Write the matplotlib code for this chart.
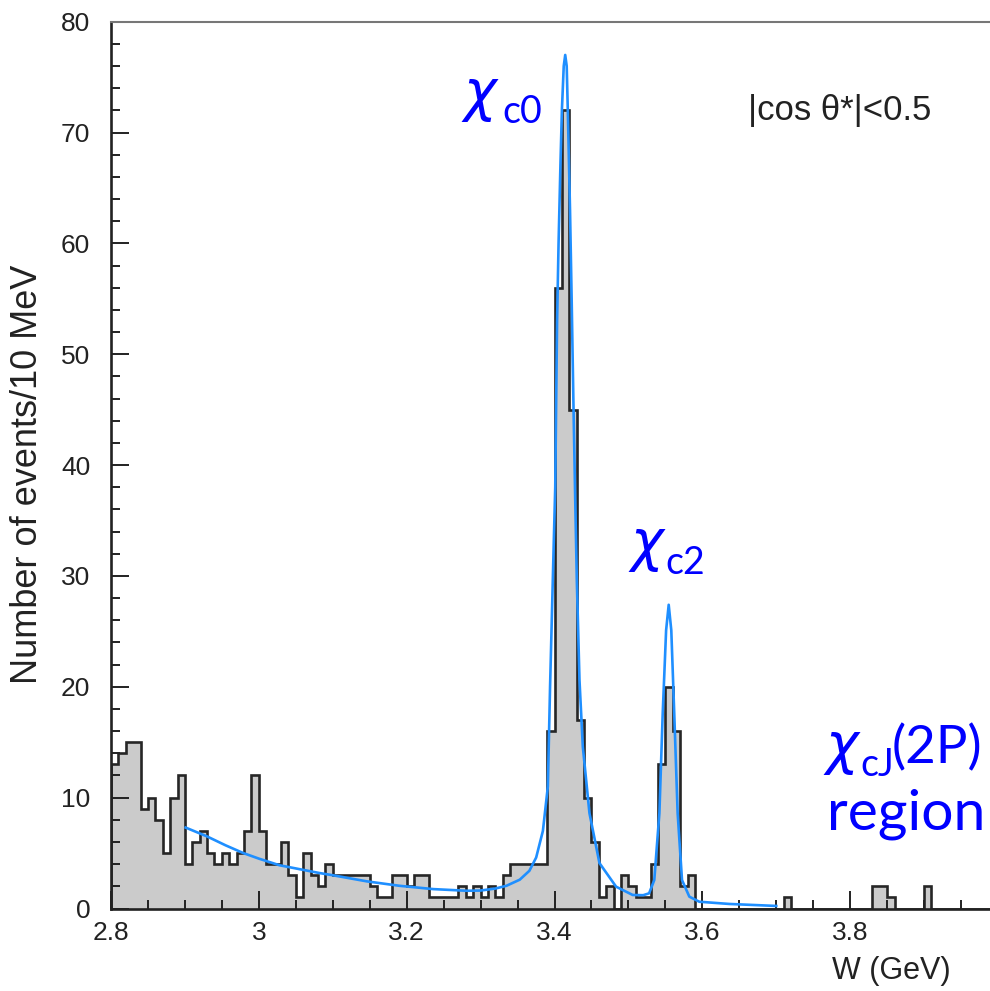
import matplotlib
matplotlib.use("Agg")
import matplotlib.pyplot as plt
import numpy as np
from matplotlib.ticker import MultipleLocator, FuncFormatter

# Histogram contents, 10 MeV bins from 2.80 to 4.00 GeV
counts = [
    13, 14, 15, 15, 9, 10, 8, 5, 10, 12,     # 2.80 - 2.89
    4, 6, 7, 5, 4, 5, 4, 5, 7, 12,           # 2.90 - 2.99
    7, 4, 4, 6, 3, 1, 5, 3, 2, 4,            # 3.00 - 3.09
    3, 3, 3, 3, 3, 2, 1, 1, 3, 3,            # 3.10 - 3.19
    2, 3, 3, 1, 1, 1, 1, 2, 1, 2,            # 3.20 - 3.29
    1, 2, 1, 3, 4, 4, 4, 4, 4, 16,           # 3.30 - 3.39
    56, 72, 45, 17, 10, 6, 1, 2, 0, 3,       # 3.40 - 3.49
    2, 1, 1, 4, 13, 20, 16, 2, 3, 0,         # 3.50 - 3.59
    0, 0, 0, 0, 0, 0, 0, 0, 0, 0,            # 3.60 - 3.69
    0, 1, 0, 0, 0, 0, 0, 0, 0, 0,            # 3.70 - 3.79
    0, 0, 0, 2, 2, 1, 0, 0, 0, 0,            # 3.80 - 3.89
    2, 0, 0, 0, 0, 0, 0, 0, 0, 0,            # 3.90 - 3.99
]
w_lo, w_hi = 2.80, 4.00

# Fit curve, points
fit_w = [2.901, 2.930, 2.955, 2.979, 3.000, 3.028, 3.055, 3.082, 3.100, 3.146,
         3.190, 3.236, 3.281, 3.300, 3.320, 3.335, 3.353, 3.366, 3.3752, 3.3843,
         3.391, 3.394, 3.3977, 3.399, 3.401, 3.4023, 3.4035, 3.4055, 3.408, 3.410,
         3.4125, 3.4145, 3.4165, 3.4180, 3.420, 3.421, 3.4232, 3.4255, 3.428, 3.4302,
         3.4338, 3.4383, 3.4473, 3.4608, 3.4833, 3.5058, 3.520, 3.528, 3.535, 3.5419,
         3.5464, 3.551, 3.5545, 3.558, 3.562, 3.5666, 3.5725, 3.5824, 3.5959, 3.6365,
         3.700]
fit_n = [7.3, 6.5, 5.7, 5.0, 4.5, 3.9, 3.55, 3.2, 3.0, 2.45,
         2.05, 1.75, 1.6, 1.62, 1.8, 2.05, 2.6, 3.4, 4.6, 7.0,
         11.0, 20.0, 29.6, 33.0, 38.0, 46.0, 53.0, 60.0, 67.0, 72.0,
         76.0, 77.0, 76.0, 72.0, 66.0, 63.0, 55.0, 46.0, 37.0, 29.6,
         20.6, 14.6, 8.6, 4.1, 1.97, 1.22, 1.2, 1.37, 2.57, 8.6,
         17.6, 25.1, 27.4, 25.1, 17.6, 8.6, 2.57, 1.07, 0.61, 0.41,
         0.23]

W, H = 990, 991


def fx(px):
    return px / W


def fy(py):
    return 1 - py / H


def wlabel(v, pos):
    # the 4.0 label falls outside the cropped picture
    if v > 3.95:
        return ""
    return "%g" % round(v, 2)


fig = plt.figure(figsize=(9.9, 9.91), dpi=100)
ax = fig.add_axes([fx(111), fy(908.5), (998 - 111) / W, (908.5 - 21.7) / H])

edges = np.linspace(w_lo, w_hi, len(counts) + 1)
ax.stairs(counts, edges, fill=True, facecolor="#cbcbcb", edgecolor="none", zorder=1)
ax.stairs(counts, edges, color="#262626", lw=1.9, zorder=1.5)
ax.plot(fit_w, fit_n, color="#1f8fff", lw=1.9, zorder=2)

ax.set_xlim(w_lo, w_hi)
ax.set_ylim(0, 80)

ax.xaxis.set_major_locator(MultipleLocator(0.2))
ax.xaxis.set_minor_locator(MultipleLocator(0.05))
ax.yaxis.set_major_locator(MultipleLocator(10))
ax.yaxis.set_minor_locator(MultipleLocator(2))
ax.xaxis.set_major_formatter(FuncFormatter(wlabel))
ax.tick_params(which="both", direction="in", width=1.4, colors="#222222",
               top=False, right=False)
ax.tick_params(which="major", length=13, labelsize=19)
ax.tick_params(axis="y", which="major", pad=15)
ax.tick_params(axis="x", which="major", pad=9)
ax.tick_params(which="minor", length=6.5)
for lab in ax.get_xticklabels() + ax.get_yticklabels():
    lab.set_fontfamily("Liberation Sans")
    lab.set_color("#222222")

for side in ["left", "bottom"]:
    ax.spines[side].set_linewidth(1.9)
    ax.spines[side].set_color("#222222")
ax.spines["top"].set_linewidth(1.5)
ax.spines["top"].set_color("#777777")
ax.spines["right"].set_linewidth(1.5)

# axis titles
fig.text(fx(28), fy(474), "Number of events/10 MeV", rotation=90,
         ha="center", va="center", fontsize=26, family="Liberation Sans",
         color="#222222")
fig.text(fx(891), fy(971), "W (GeV)", ha="center", va="center",
         fontsize=22, family="Liberation Sans", color="#222222")
fig.text(fx(748), fy(120), "|cos θ*|<0.5", ha="left", va="baseline",
         fontsize=25, family="Liberation Sans", color="#222222")

# blue labels
blue = "#0000ff"
fam = ["Lato", "DejaVu Sans"]
chi = dict(ha="left", va="baseline", fontsize=40, family="DejaVu Sans",
           style="italic", color=blue)
fig.text(fx(463), fy(110), "χ", **chi)
fig.text(fx(502), fy(123), "c0", ha="left", va="baseline", fontsize=27,
         family=fam, color=blue)
fig.text(fx(630), fy(560), "χ", **chi)
fig.text(fx(665), fy(574), "c2", ha="left", va="baseline", fontsize=27,
         family=fam, color=blue)
fig.text(fx(825), fy(763), "χ", **chi)
fig.text(fx(860), fy(776), "cJ", ha="left", va="baseline", fontsize=27,
         family=fam, color=blue)
fig.text(fx(892), fy(763), "(2P)", ha="left", va="baseline", fontsize=38,
         family=fam, color=blue)
fig.text(fx(827), fy(830), "region", ha="left", va="baseline", fontsize=41,
         family=fam, color=blue)

fig.savefig("out.png", dpi=100)
